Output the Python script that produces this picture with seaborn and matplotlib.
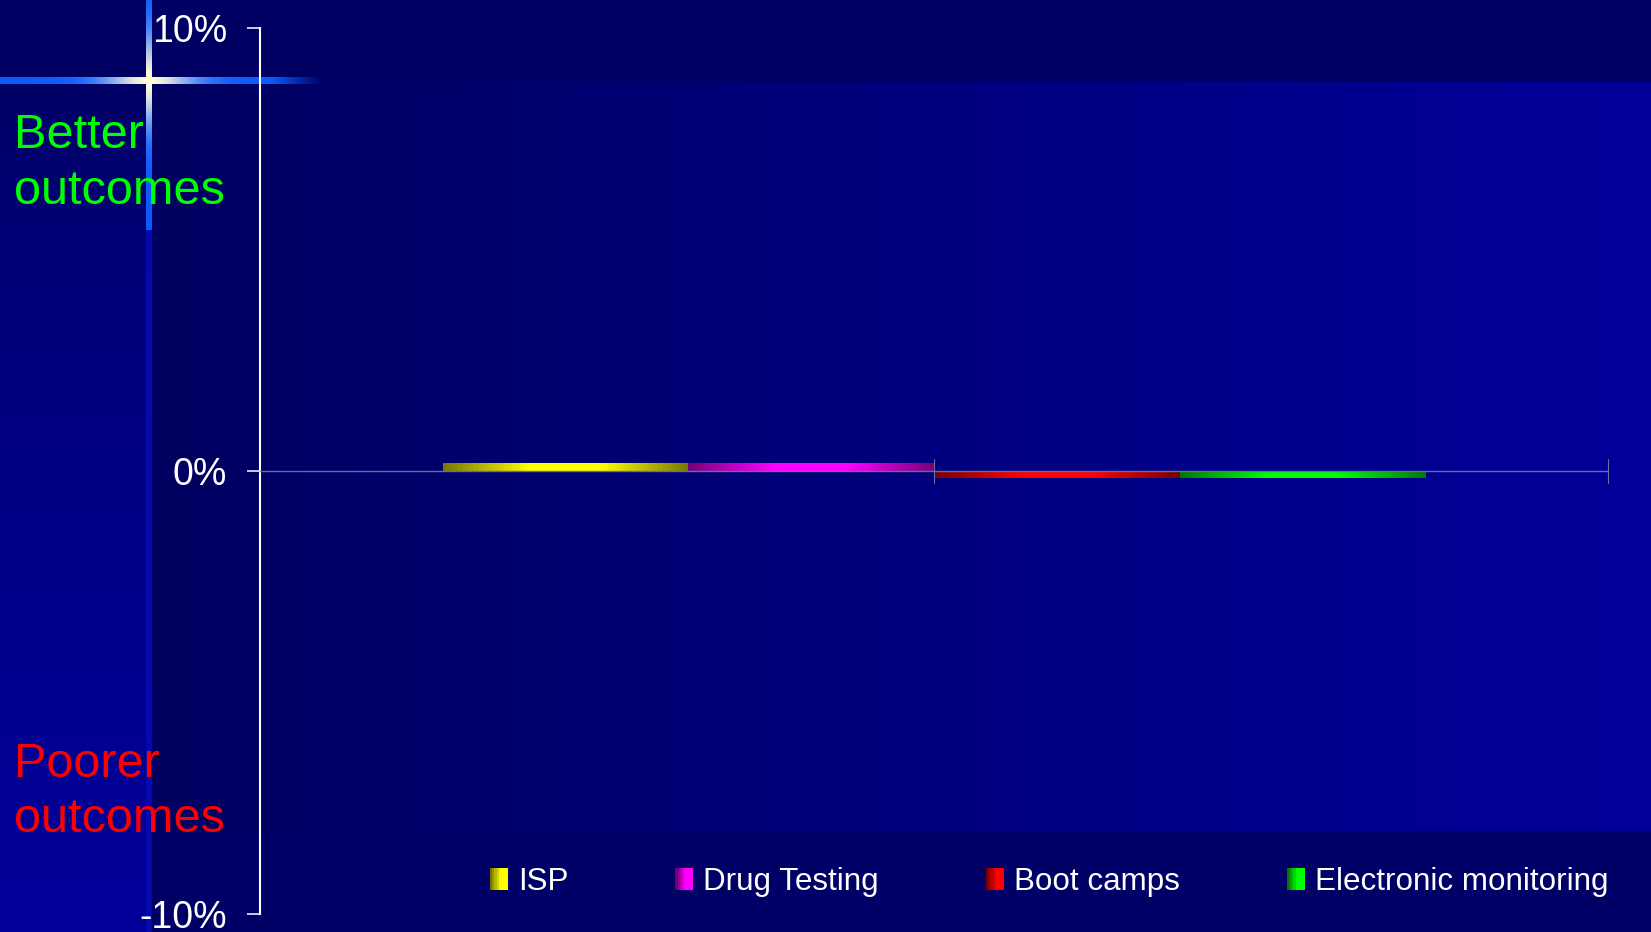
import numpy as np
import pandas as pd
import matplotlib
matplotlib.use("Agg")
import matplotlib.pyplot as plt
import seaborn as sns
from matplotlib.legend_handler import HandlerBase
from matplotlib.patches import Rectangle, Patch

# data
programs = ["ISP", "Drug Testing", "Boot camps", "Electronic monitoring"]
effects = [0.18, 0.18, -0.15, -0.15]
colors = ["#ffff00", "#ff00ff", "#ff0000", "#00ff00"]
ytick_vals = [-10, 0, 10]
ytick_labels = ["-10%", "0%", "10%"]

df = pd.DataFrame({"group": [""] * len(programs), "program": programs, "effect": effects})

sns.set_theme(style="white")
plt.rcParams["font.family"] = ["Liberation Sans", "DejaVu Sans"]

W, H = 1651, 932
fig = plt.figure(figsize=(W / 100, H / 100), dpi=100)

# slide background
yy, xx = np.mgrid[0:H, 0:W].astype(float)
blue = 0x60 + (0x9a - 0x60) * np.clip((xx - 148) / (W - 148), 0, 1)
left = xx < 148
blue[left] = (0x64 + (0x9a - 0x64) * np.clip((yy - 80) / (H - 80), 0, 1) ** 0.7)[left]
blue[yy < 82] = 0x62
blue[(yy >= 831) & (xx >= 148)] = 0x66
bg = np.zeros((H, W, 3))
bg[..., 2] = blue / 255

line_blue = np.array([0.04, 0.36, 1.0])
cream = np.array([1.0, 0.98, 0.85])
# horizontal accent line
for r in range(77, 84):
    for c in range(0, 320):
        w = np.exp(-((c - 149) / 45) ** 2)
        col = line_blue * (1 - w) + cream * w
        a = 1.0 if c < 270 else max(0.0, 1 - (c - 270) / 50)
        bg[r, c] = bg[r, c] * (1 - a) + col * a
# vertical accent line
for r in range(0, H):
    w = np.exp(-((r - 80) / 45) ** 2)
    if r < 230:
        col = line_blue * (1 - w) + cream * w
    else:
        col = np.array([0.0, 0.04, 0.68])
    bg[r, 146:152] = col

bgax = fig.add_axes([0, 0, 1, 1], zorder=-1)
bgax.imshow(bg, aspect="auto", extent=[0, W, H, 0])
bgax.axis("off")

ax = fig.add_axes([260 / W, 1 - 914 / H, (1608 - 260) / W, (914 - 28) / H])
ax.set_facecolor("none")

sns.barplot(data=df, x="group", y="effect", hue="program", hue_order=programs,
            palette=colors, width=0.7285, errorbar=None, legend=False,
            edgecolor="none", linewidth=0, ax=ax)


def gradient(color, n=64, half=False):
    t = np.linspace(0, 1, n)
    if half:
        b = 0.45 + 0.55 * np.clip(t / 0.6, 0, 1)
    else:
        b = 0.48 + 0.52 * np.clip((1 - np.abs(2 * t - 1)) / 0.7, 0, 1)
    rgb = np.array(matplotlib.colors.to_rgb(color))
    return b[:, None] * rgb[None, :]


# shaded bar fills
for patch, color in zip(ax.patches, colors):
    x0, y0 = patch.get_x(), patch.get_y()
    w, h = patch.get_width(), patch.get_height()
    img = ax.imshow(gradient(color)[None, :, :], aspect="auto",
                    extent=[x0, x0 + w, min(y0, y0 + h), max(y0, y0 + h)],
                    zorder=3)
    img.set_clip_path(patch)

ax.set_xlim(-0.5, 0.5)
ax.set_ylim(-10, 10)
ax.axhline(0, color="#6070a0", lw=1, zorder=4)

ax.set_yticks(ytick_vals)
ax.set_yticklabels(ytick_labels, color="white", fontsize=27)
ax.tick_params(axis="y", direction="out", length=9.5, width=1.1, color="white", pad=14, left=True)
ax.set_xticks([0, 0.5])
ax.set_xticklabels([])
ax.tick_params(axis="x", length=0)
# category ticks crossing the zero line
for xv in [0, 0.5]:
    ax.plot([xv, xv], [-0.27, 0.27], color="#6070a0", lw=0.8, zorder=4, clip_on=False)

for s in ["top", "right", "bottom"]:
    ax.spines[s].set_visible(False)
ax.spines["left"].set_color("white")
ax.spines["left"].set_linewidth(1.5)
ax.set_xlabel("")
ax.set_ylabel("")

fig.text(14 / W, 1 - 113 / H, "Better\noutcomes", color="#00ff00", fontsize=35,
         va="top", ha="left", linespacing=1.3)
fig.text(14 / W, 1 - 742 / H, "Poorer\noutcomes", color="#ff0000", fontsize=35,
         va="top", ha="left", linespacing=1.3)


class GradientHandler(HandlerBase):
    def create_artists(self, legend, orig_handle, xdescent, ydescent, width, height, fontsize, trans):
        g = gradient(orig_handle.get_facecolor(), n=8, half=True)
        n = len(g)
        arts = []
        for i, c in enumerate(g):
            r = Rectangle((-xdescent + i * width / n, -ydescent), width / n + 0.3, height,
                          facecolor=c, edgecolor="none", transform=trans)
            arts.append(r)
        return arts


handles = [Patch(facecolor=c, label=p) for p, c in zip(programs, colors)]
fig.legend(handles=handles, loc="center right", bbox_to_anchor=(1608 / W, 1 - 882 / H),
           ncol=4, frameon=False, fontsize=22.6, labelcolor="white",
           handlelength=0.56, handleheight=0.7, handletextpad=0.32,
           columnspacing=3.42, borderpad=0, borderaxespad=0,
           handler_map={Patch: GradientHandler()})

fig.savefig("out.png", dpi=100)
